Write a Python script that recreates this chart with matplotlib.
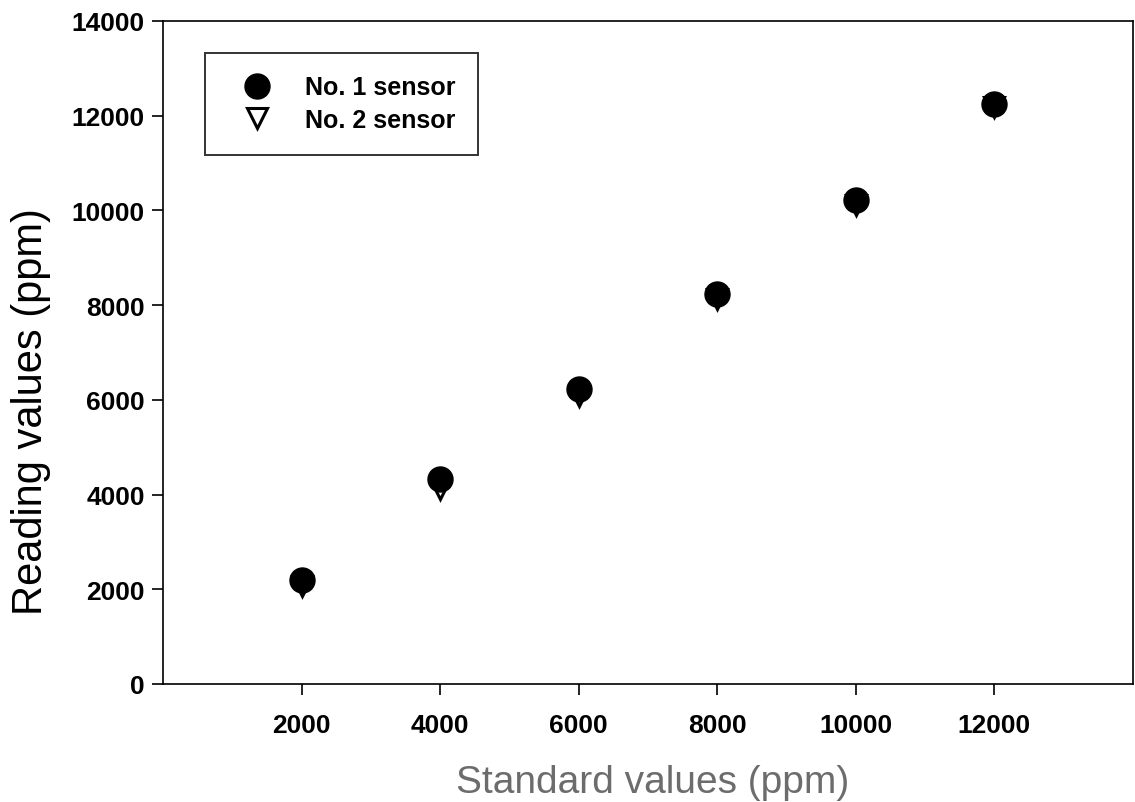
import numpy as np
import matplotlib
matplotlib.use("Agg")
import matplotlib.pyplot as plt

# standard gas concentrations (ppm) and the two sensor readings
standard = [2000, 4000, 6000, 8000, 10000, 12000]
sensor1 = [2200, 4330, 6230, 8240, 10230, 12250]
sensor2 = [2060, 4120, 6080, 8120, 10120, 12180]
xticks = [2000, 4000, 6000, 8000, 10000, 12000]
yticks = [0, 2000, 4000, 6000, 8000, 10000, 12000, 14000]

plt.rcParams['font.family'] = ['Liberation Sans', 'DejaVu Sans']

fig = plt.figure(figsize=(11.35, 8.03), dpi=100)
ax = fig.add_axes([163 / 1135, 1 - 685 / 803, 970 / 1135, 663 / 803])

ax.plot(standard, sensor2, linestyle='none', marker='v', markersize=14,
        markerfacecolor='white', markeredgecolor='black', markeredgewidth=2.2,
        label='No. 2 sensor', zorder=3)
ax.plot(standard, sensor1, linestyle='none', marker='o', markersize=18,
        color='black', label='No. 1 sensor', zorder=4)

ax.set_xlim(0, 14000)
ax.set_ylim(0, 14000)
ax.set_xticks(xticks)
ax.set_yticks(yticks)
ax.tick_params(axis='both', direction='out', length=8, width=1.2,
               labelsize=19)
ax.tick_params(axis='x', pad=13)
ax.tick_params(axis='y', pad=5)
for lab in ax.get_xticklabels() + ax.get_yticklabels():
    lab.set_fontweight('bold')
for s in ax.spines.values():
    s.set_linewidth(1.2)

ax.set_xlabel('Standard values (ppm)', fontsize=28, color='#6c6c6c')
ax.set_ylabel('Reading values (ppm)', fontsize=30, color='black')
ax.xaxis.set_label_coords(0.505, -0.12)
ax.yaxis.set_label_coords(-0.115, 0.412)

h, l = ax.get_legend_handles_labels()
leg = ax.legend(h[::-1], l[::-1], loc='upper left', bbox_to_anchor=(0.043, 0.952),
                prop={'size': 18, 'weight': 'bold'}, frameon=True, fancybox=False,
                borderpad=0.9, handlelength=2.4, handletextpad=0.7,
                labelspacing=0.35, borderaxespad=0, numpoints=1)
leg.get_frame().set_edgecolor('black')
leg.get_frame().set_linewidth(1.4)

fig.savefig('out.png', dpi=100)
